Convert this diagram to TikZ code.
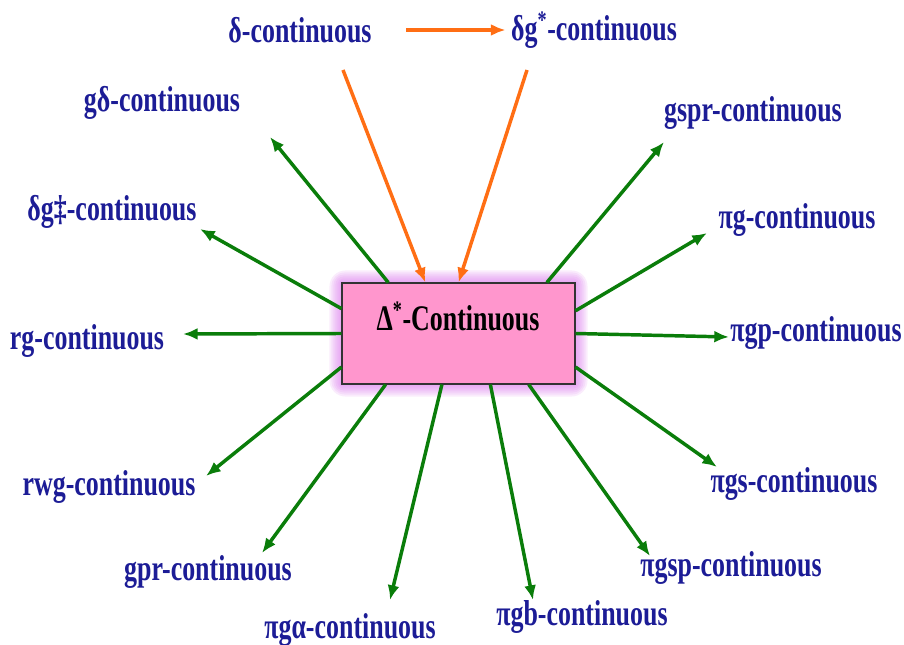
\documentclass[tikz,border=0pt]{standalone}
\usepackage{fontspec}
\setmainfont{Liberation Serif}
\newfontfamily\condfont[FakeStretch=0.72]{Liberation Serif}
\usepackage{tikz}
\usetikzlibrary{arrows.meta, backgrounds}

\definecolor{labelblue}{RGB}{28,28,150}
\definecolor{arrowgreen}{RGB}{10,125,10}
\definecolor{arroworange}{RGB}{255,110,20}
\definecolor{boxpink}{RGB}{255,150,205}
\definecolor{glowviolet}{RGB}{215,110,235}

\begin{document}
\begin{tikzpicture}[
        x=0.75pt, y=0.75pt,
        % Define styles
        lbl/.style={font=\condfont\bfseries\fontsize{27}{30}\selectfont, text=labelblue, inner sep=1pt},
        centre/.style={draw=black!80, thick, fill=boxpink, minimum width=174.75pt, minimum height=75.75pt, inner sep=0pt},
        title/.style={font=\condfont\bfseries\fontsize{27}{30}\selectfont, text=black, inner sep=1pt},
        arrow/.style={-{Latex[length=11pt, width=9pt]}, line width=2.6pt, arrowgreen},
        feed/.style={-{Latex[length=11pt, width=9pt]}, line width=2.6pt, arroworange}
    ]
    \useasboundingbox (0,0) rectangle (904,-645);

    % 1. Central box
    \node[centre] (box) at (458.5,-333.5) {};
    \node[title] (ttl) at (458,-316) {Δ\textsuperscript{*}-Continuous};

    % glow round the box
    \begin{scope}[on background layer]
        \foreach \g in {2,4,...,12}
            \fill[glowviolet, opacity=0.13, rounded corners=\g pt]
                ([shift={(-\g,\g)}]box.north west) rectangle ([shift={(\g,-\g)}]box.south east);
    \end{scope}

    % 2. Labels
    \node[lbl] (dl)    at (300,-30)  {δ-continuous};
    \node[lbl] (dgs)   at (594,-30)  {δg\textsuperscript{*}-continuous};
    \node[lbl] (gd)    at (162,-103) {gδ-continuous};
    \node[lbl] (gspr)  at (753,-113) {gspr-continuous};
    \node[lbl] (dgd)   at (112,-212) {δg‡-continuous};
    \node[lbl] (pig)   at (797,-220) {πg-continuous};
    \node[lbl] (rg)    at (87,-341)  {rg-continuous};
    \node[lbl] (pigp)  at (816,-333) {πgp-continuous};
    \node[lbl] (rwg)   at (109,-487) {rwg-continuous};
    \node[lbl] (pigs)  at (794,-484) {πgs-continuous};
    \node[lbl] (gpr)   at (208,-572) {gpr-continuous};
    \node[lbl] (pigsp) at (731,-568) {πgsp-continuous};
    \node[lbl] (piga)  at (350,-630) {πgα-continuous};
    \node[lbl] (pigb)  at (582,-617) {πgb-continuous};

    % 3. Arrow ends near the labels
    \coordinate (h1)  at (270,-137);
    \coordinate (h2)  at (200,-229);
    \coordinate (h3)  at (183,-334);
    \coordinate (h4)  at (206,-476);
    \coordinate (h5)  at (262,-553);
    \coordinate (h6)  at (390,-600);
    \coordinate (h7)  at (533,-600);
    \coordinate (h8)  at (650,-556);
    \coordinate (h9)  at (717,-467);
    \coordinate (h10) at (729,-337);
    \coordinate (h11) at (707,-233);
    \coordinate (h12) at (664,-142);
    \coordinate (o1)  at (343,-70);
    \coordinate (o2)  at (527,-70);

    % Green arrows out of the box
    \draw[arrow] (box.144.4) -- (h1);
    \draw[arrow] (box.168.6) -- (h2);
    \draw[arrow] (box.180)   -- (h3);
    \draw[arrow] (box.196.5) -- (h4);
    \draw[arrow] (box.215.6) -- (h5);
    \draw[arrow] (box.252.9) -- (h6);
    \draw[arrow] (box.302)   -- (h7);
    \draw[arrow] (box.324)   -- (h8);
    \draw[arrow] (box.344.9) -- (h9);
    \draw[arrow] (box.0)     -- (h10);
    \draw[arrow] (box.11.4)  -- (h11);
    \draw[arrow] (box.30.3)  -- (h12);

    % 4. Orange arrows at the top
    \draw[feed, shorten <=25pt, shorten >=3pt] (dl.east) -- (dl.east -| dgs.west);
    \draw[feed] (o1) -- (box.123.6);
    \draw[feed] (o2) -- (box.90.6);

\end{tikzpicture}
\end{document}
